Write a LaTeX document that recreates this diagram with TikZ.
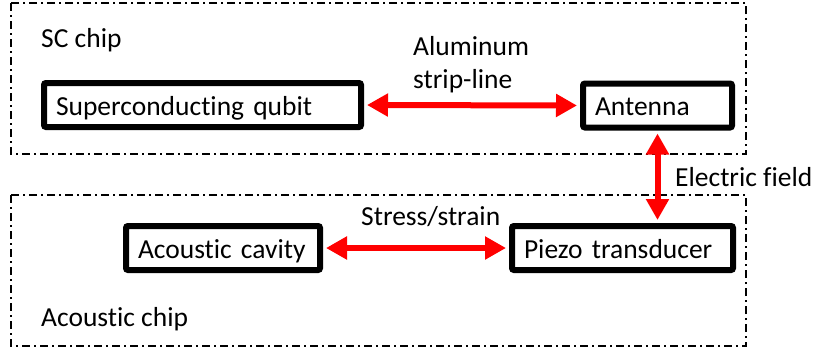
\documentclass[tikz,border=0pt]{standalone}
\usepackage{fontspec}
\setmainfont{Carlito}[Ligatures={NoCommon,NoContextual}]
\usetikzlibrary{arrows.meta}
\begin{document}
\begin{tikzpicture}[x=1pt,y=-1pt,
  every node/.style={font=\fontsize{27.5}{33}\selectfont, inner sep=0pt},
  chipframe/.style={line width=1.4pt, dash pattern=on 8pt off 4pt on 2pt off 4pt},
  blockbox/.style={draw, line width=6pt, rounded corners=2pt, fill=white,
    inner xsep=12pt, inner ysep=8pt, text height=24pt, text depth=4pt,
    align=left, minimum height=44pt},
  lbl/.style={anchor=base west},
  redarr/.style={draw=red, line width=6pt,
    {Triangle[length=21pt,width=22pt]}-{Triangle[length=21pt,width=22pt]},
    shorten <=3pt, shorten >=3pt}
]
\useasboundingbox (0,0) rectangle (816,351);
% chip frames
\draw[chipframe] (11,3) rectangle (746,154);
\draw[chipframe] (11,195) rectangle (746,346);
% blocks
\node[blockbox, text width=293pt] (qubit) at (202.5,105) {Superconducting qubit};
\node[blockbox, text width=125pt] (ant) at (657.5,105.5) {Antenna};
\node[blockbox, text width=170pt] (cav) at (223,248) {Acoustic cavity};
\node[blockbox, text width=197pt] (piezo) at (622.5,248) {Piezo transducer};
% labels
\node[lbl] (scchip) at (41,47) {SC chip};
\node[lbl] (al1) at (413,55) {Aluminum};
\node[lbl] (al2) at (413,88) {strip-line};
\node[lbl] (efield) at (675,186) {Electric field};
\node[lbl] (stress) at (361,225) {Stress/strain};
\node[lbl] (acchip) at (41,326) {Acoustic chip};
% connectors
\draw[redarr] (qubit.east) -- (ant.west);
\draw[redarr] (ant.south) -- (ant.south |- piezo.north);
\draw[redarr] (cav.east) -- (piezo.west);
\end{tikzpicture}
\end{document}
